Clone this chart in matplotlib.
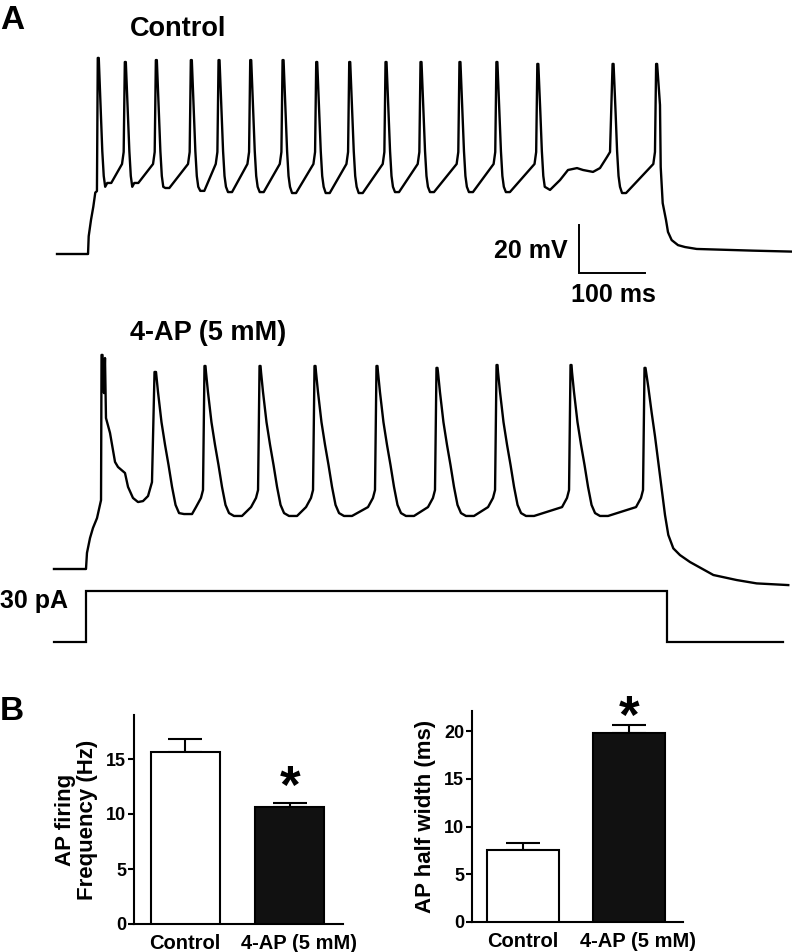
import matplotlib
matplotlib.use('Agg')
import matplotlib.pyplot as plt
from matplotlib.transforms import ScaledTranslation

plt.rcParams['font.family'] = ['Liberation Sans', 'DejaVu Sans']
plt.rcParams['font.weight'] = 'bold'
plt.rcParams['axes.labelweight'] = 'bold'

W, H = 792, 952

# ---------------- Panel A: recordings (time in ms, membrane potential in mV) ----------------
# control
ctrl_start_t = [-1.5, 45.5, 46.5, 50.0, 53.5, 56.5, 59.0]
ctrl_start_v = [-70.0, -70.0, -62.6, -55.8, -50.3, -44.4, -43.8]
ctrl_spike_t = [61, 102, 149, 202, 244, 292, 341, 392, 442, 497, 550, 609, 665, 727, 841, 907]
ctrl_peak_v = [11.7, 10.0, 10.8, 10.8, 10.8, 10.8, 10.8, 10.0, 10.0, 10.0, 10.0, 10.0, 10.0, 9.2, 9.2, 9.2]
ctrl_trough_v = [-40.4, -40.4, -42.5, -43.7, -44.2, -44.2, -44.6, -44.6, -44.6, -44.2, -44.2,
                 -44.2, -44.2, -43.3, -44.6]
# one control spike: points before / after the peak (offset in ms, mV)
ctrl_pre_dt = [-5.0, -2.5]
ctrl_pre_v = [-32.5, -27.5]
ctrl_post_dt = [3.8, 6.1, 8.3, 10.5]
ctrl_post_v = [-10.8, -27.1, -37.5, -42.0]
ctrl_trough_dt = [13.6, 19.7]
# slow hump between spike 14 and 15
ctrl_hump_t = [745.5, 760.6, 772.7, 786.4, 795.5, 810.6, 821.2, 831.8, 836.4]
ctrl_hump_v = [-43.3, -39.2, -35.0, -34.2, -35.0, -35.8, -34.2, -29.6, -27.5]
ctrl_end_t = [912.1, 913.2, 916.2, 921.2, 924.2, 929.8, 939.4, 950.0, 967.7, 1053.0, 1112.0]
ctrl_end_v = [-7.9, -33.8, -48.8, -55.8, -60.8, -64.2, -66.3, -67.1, -67.9, -68.6, -69.0]

# 4-AP (5 mM)
ap_start_t = [-6.1, 42.4, 43.9, 48.5, 53.0, 59.1, 63.6, 65.2]
ap_start_v = [-70.0, -70.0, -63.3, -57.1, -52.9, -48.8, -43.3, -41.3]
ap_spike_t = [66.7, 147.0, 222.7, 306.1, 389.4, 483.3, 574.2, 665.2, 777.3, 889.4]
ap_peak_v = [19.2, 12.1, 14.6, 14.6, 14.6, 14.6, 13.8, 15.0, 15.0, 13.8]
ap_trough_v = [-42.1, -47.1, -47.9, -47.9, -47.9, -47.9, -47.9, -47.9, -47.9]
ap_pre_dt = [-13.6, -6.1, -3.0]
ap_pre_v = [-44.2, -40.4, -37.1]
ap_post_dt = [1.5, 4.5, 9.8, 15.2, 20.5, 25.8, 31.1, 36.4]
ap_post_v = [12.1, 3.8, -8.8, -18.3, -26.7, -35.8, -43.3, -46.7]
ap_trough_dt = [43.9, 56.1]
# first 4-AP spike has a broad shoulder
ap_first_t = [69.7, 71.2, 72.7, 78.8, 86.4, 90.9, 101.5, 106.1, 113.6, 121.2, 128.8, 136.4, 142.4]
ap_first_v = [3.3, 17.9, -7.1, -13.3, -25.4, -27.5, -30.0, -35.8, -40.4, -42.1, -41.7, -39.6, -33.8]
ap_end_t = [894.4, 899.5, 904.5, 909.5, 914.6, 919.7, 924.7, 932.3, 942.4, 957.6, 993.0, 1028.3,
            1058.6, 1106.5]
ap_end_v = [5.8, -4.9, -14.6, -25.4, -36.5, -47.5, -55.8, -61.4, -64.2, -67.1, -72.5, -74.6,
            -76.0, -76.7]

# injected current step (pA)
step_t = [-6.1, 42.4, 42.4, 922.7, 922.7, 1098.5]
step_pa = [0, 0, 30, 30, 0, 0]

# scale bar
scale_ms = 100
scale_mv = 20
scale_t0 = 789.4
scale_v0 = -77.8

# ---------------- Panel B: summary bars ----------------
groups = ['Control', '4-AP (5 mM)']
freq_mean = [15.6, 10.6]
freq_sem = [1.2, 0.4]
width_mean = [7.5, 19.8]
width_sem = [0.75, 0.85]


def add_px_axes(fig, left, top, width, height):
    return fig.add_axes([left / W, 1 - (top + height) / H, width / W, height / H])


def px_text(fig, x, y, s, **kw):
    fig.text(x / W, 1 - y / H, s, **kw)


def build_trace(start_t, start_v, spike_t, peak_v, trough_v, pre, post, trough_dt, custom,
                end_t, end_v):
    t = list(start_t)
    v = list(start_v)
    skip_pre = {0}
    for i, (ts, pk) in enumerate(zip(spike_t, peak_v)):
        if i not in skip_pre:
            t += [ts + d for d in pre[0]]
            v += list(pre[1])
        t += [ts - 0.75, ts + 0.75]
        v += [pk, pk]
        if i == len(spike_t) - 1:
            break
        if i in custom:
            t += custom[i][0]
            v += custom[i][1]
            skip_pre.add(i + 1)
        else:
            t += [ts + d for d in post[0]]
            v += list(post[1])
            t += [ts + d for d in trough_dt]
            v += [trough_v[i]] * len(trough_dt)
    t += end_t
    v += end_v
    return t, v


# pixel calibration of the traces (from the scale bar)
PX_PER_MS = 0.66
PX_PER_MV = 2.4
T0_PX = 58


def trace_axes(fig, top, height, rest_px, rest_val, px_per_unit):
    ax = add_px_axes(fig, 0, top, W, height)
    ax.set_xlim(-T0_PX / PX_PER_MS, (W - T0_PX) / PX_PER_MS)
    ax.set_ylim(rest_val - (top + height - rest_px) / px_per_unit,
                rest_val + (rest_px - top) / px_per_unit)
    ax.axis('off')
    return ax


fig = plt.figure(figsize=(W / 100, H / 100), dpi=100)

# control trace
hump_idx = 13
ctrl_custom = {hump_idx: ([ctrl_spike_t[hump_idx] + d for d in ctrl_post_dt] + ctrl_hump_t,
                          ctrl_post_v + ctrl_hump_v)}
ct, cv = build_trace(ctrl_start_t, ctrl_start_v, ctrl_spike_t, ctrl_peak_v, ctrl_trough_v,
                     (ctrl_pre_dt, ctrl_pre_v), (ctrl_post_dt, ctrl_post_v), ctrl_trough_dt,
                     ctrl_custom, ctrl_end_t, ctrl_end_v)
ax_c = trace_axes(fig, 40, 270, 254, -70, PX_PER_MV)
ax_c.plot(ct, cv, color='black', lw=1.7)
ax_c.plot([scale_t0, scale_t0, scale_t0 + scale_ms], [scale_v0 + scale_mv, scale_v0, scale_v0],
          color='black', lw=1.4, solid_joinstyle='miter')

# 4-AP trace
at, av = build_trace(ap_start_t, ap_start_v, ap_spike_t, ap_peak_v, ap_trough_v,
                     (ap_pre_dt, ap_pre_v), (ap_post_dt, ap_post_v), ap_trough_dt,
                     {0: (ap_first_t, ap_first_v)}, ap_end_t, ap_end_v)
ax_a = trace_axes(fig, 330, 280, 569, -70, PX_PER_MV)
ax_a.plot(at, av, color='black', lw=1.7)

# current step
ax_i = trace_axes(fig, 570, 90, 642, 0, 1.7)
ax_i.plot(step_t, step_pa, color='black', lw=1.6, solid_joinstyle='miter')

px_text(fig, 0, 29, 'A', fontsize=24, va='baseline', ha='left')
px_text(fig, 130, 36, 'Control', fontsize=19.5, va='baseline', ha='left')
px_text(fig, 130, 340, '4-AP (5 mM)', fontsize=19.5, va='baseline', ha='left')
px_text(fig, 568, 258, '20 mV', fontsize=18, va='baseline', ha='right')
px_text(fig, 613, 302, '100 ms', fontsize=18, va='baseline', ha='center')
px_text(fig, 0, 608, '30 pA', fontsize=18, va='baseline', ha='left')
px_text(fig, 0, 720, 'B', fontsize=24, va='baseline', ha='left')


def bar_panel(box, xlim, width, means, sems, ylim, yticks, ylabel):
    ax = add_px_axes(fig, *box)
    x = [0, 1]
    ax.errorbar(x, means, yerr=[[0, 0], sems], fmt='none', ecolor='black', elinewidth=1.5,
                capsize=12, capthick=1.5, zorder=2)
    ax.bar(x, means, width=width, color=['white', '#111111'], edgecolor='black',
           linewidth=1.5, zorder=3)
    ax.set_xlim(*xlim)
    ax.set_ylim(*ylim)
    ax.set_yticks(yticks)
    ax.set_xticks(x)
    ax.set_xticklabels(groups, fontsize=14.5)
    ax.spines['top'].set_visible(False)
    ax.spines['right'].set_visible(False)
    ax.spines['left'].set_linewidth(1.5)
    ax.spines['bottom'].set_linewidth(1.5)
    ax.tick_params(axis='y', length=4.5, width=1.5, pad=1, labelsize=13)
    ax.tick_params(axis='x', length=0, pad=7)
    ax.set_ylabel(ylabel, fontsize=16, labelpad=6, linespacing=1.05)
    lab = ax.get_xticklabels()[1]
    lab.set_transform(lab.get_transform() + ScaledTranslation(0.09, 0, fig.dpi_scale_trans))
    return ax


ax_f = bar_panel((134, 715, 209, 209), (-0.49, 1.51), 0.66, freq_mean, freq_sem, (0, 19),
                 [0, 5, 10, 15], 'AP firing\nFrequency (Hz)')
ax_f.text(1, freq_mean[1] + freq_sem[1], '*', fontsize=38, ha='center', va='baseline')

ax_w = bar_panel((472, 711, 211, 211), (-0.48, 1.51), 0.68, width_mean, width_sem, (0, 22.1),
                 [0, 5, 10, 15, 20], 'AP half width (ms)')
ax_w.text(1, width_mean[1], '*', fontsize=38, ha='center', va='baseline', clip_on=False)

fig.savefig('out.png', dpi=100)
